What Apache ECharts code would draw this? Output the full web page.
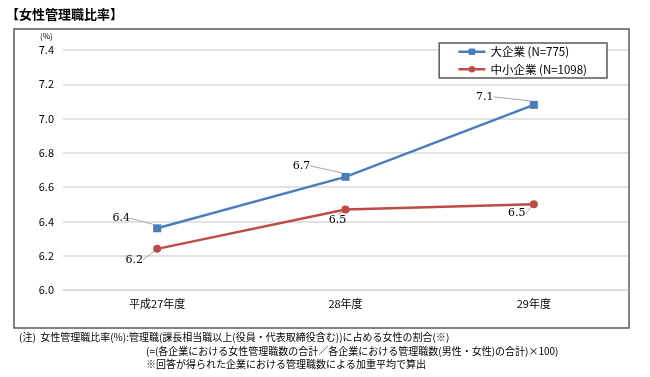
<!DOCTYPE html>
<html><head><meta charset="utf-8">
<script src="https://cdn.jsdelivr.net/npm/echarts@6/dist/echarts.min.js"></script>
<style>html,body{margin:0;padding:0;background:#fff}#c{width:650px;height:377px}</style>
</head><body><div id="c"></div>
<script>
const categories = ['平成27年度', '28年度', '29年度'];
const largeName = '大企業 (N=775)';
const smallName = '中小企業 (N=1098)';
const largeValues = [6.36, 6.66, 7.08];
const smallValues = [6.24, 6.47, 6.50];
const yTicks = { min: 6.0, max: 7.4, interval: 0.2 };
const title = '【女性管理職比率】';
const notes = [
  '(注)  女性管理職比率(%):管理職(課長相当職以上(役員・代表取締役含む))に占める女性の割合(※)',
  '(=(各企業における女性管理職数の合計／各企業における管理職数(男性・女性)の合計)×100)',
  '※回答が得られた企業における管理職数による加重平均で算出'
];

// label offsets (style only)
const largeOff = [[-36, -10], [-44, -11], [-49, -8]];
const smallOff = [[-23, 11], [-8, 11], [-17, 9]];

const CJK = '"Noto Sans CJK JP", sans-serif';
const SERIF = '"DejaVu Serif", "Liberation Serif", serif';

const chart = echarts.init(document.getElementById('c'));
function mkSeries(name, data, color, symbol, size, off) {
  return {
    name, type: 'line', data, symbol, symbolSize: size,
    itemStyle: { color }, lineStyle: { color, width: 2.5 },
    label: {
      show: true, position: 'inside', fontFamily: SERIF, fontSize: 11, color: '#000',
      formatter: p => p.value.toFixed(1)
    },
    labelLine: { show: true, lineStyle: { color: '#a6a6a6', width: 1 } },
    labelLayout: p => ({ dx: off[p.dataIndex][0], dy: off[p.dataIndex][1] }),
    emphasis: { disabled: true }, animation: false
  };
}
chart.setOption({
  animation: false,
  grid: { left: 63, right: 22, top: 50, bottom: 87 },
  xAxis: {
    type: 'category', data: categories, boundaryGap: true,
    axisLine: { show: true, lineStyle: { color: '#d9d9d9', width: 1.5 } },
    axisTick: { show: false },
    axisLabel: { color: '#000', fontFamily: CJK, fontSize: 11, margin: 8 }
  },
  yAxis: {
    type: 'value', min: yTicks.min, max: yTicks.max, interval: yTicks.interval,
    axisLine: { show: false }, axisTick: { show: false },
    splitLine: { lineStyle: { color: '#d9d9d9', width: 1.5 } },
    axisLabel: { color: '#000', fontFamily: CJK, fontSize: 11, margin: 9, formatter: v => v.toFixed(1) }
  },
  legend: {
    right: 43, top: 43, orient: 'vertical', itemGap: 6,
    padding: [3, 20, 3, 18], borderColor: '#595959', borderWidth: 1.5, backgroundColor: '#fff',
    itemWidth: 27, itemHeight: 8,
    lineStyle: { width: 2.5 },
    textStyle: { fontFamily: CJK, fontSize: 11.5, color: '#000' },
    data: [largeName, smallName]
  },
  graphic: [
    { type: 'rect', shape: { x: 14, y: 29, width: 615, height: 299 }, style: { fill: 'none', stroke: '#595959', lineWidth: 1.5 }, z: -1 },
    { type: 'text', left: 6, top: 8, style: { text: title, font: 'bold 13px ' + CJK, fill: '#000' } },
    { type: 'text', left: 40, top: 32, style: { text: '(%)', font: '8px ' + CJK, fill: '#000' } },
    { type: 'text', left: 19, top: 332, style: { text: notes[0], font: '10px ' + CJK, fill: '#000' } },
    { type: 'text', left: 146, top: 346, style: { text: notes[1], font: '10px ' + CJK, fill: '#000' } },
    { type: 'text', left: 146, top: 359, style: { text: notes[2], font: '10px ' + CJK, fill: '#000' } }
  ],
  series: [
    mkSeries(largeName, largeValues, '#4a7ebb', 'rect', 8, largeOff),
    mkSeries(smallName, smallValues, '#be4b48', 'circle', 8, smallOff)
  ]
});
</script></body></html>
